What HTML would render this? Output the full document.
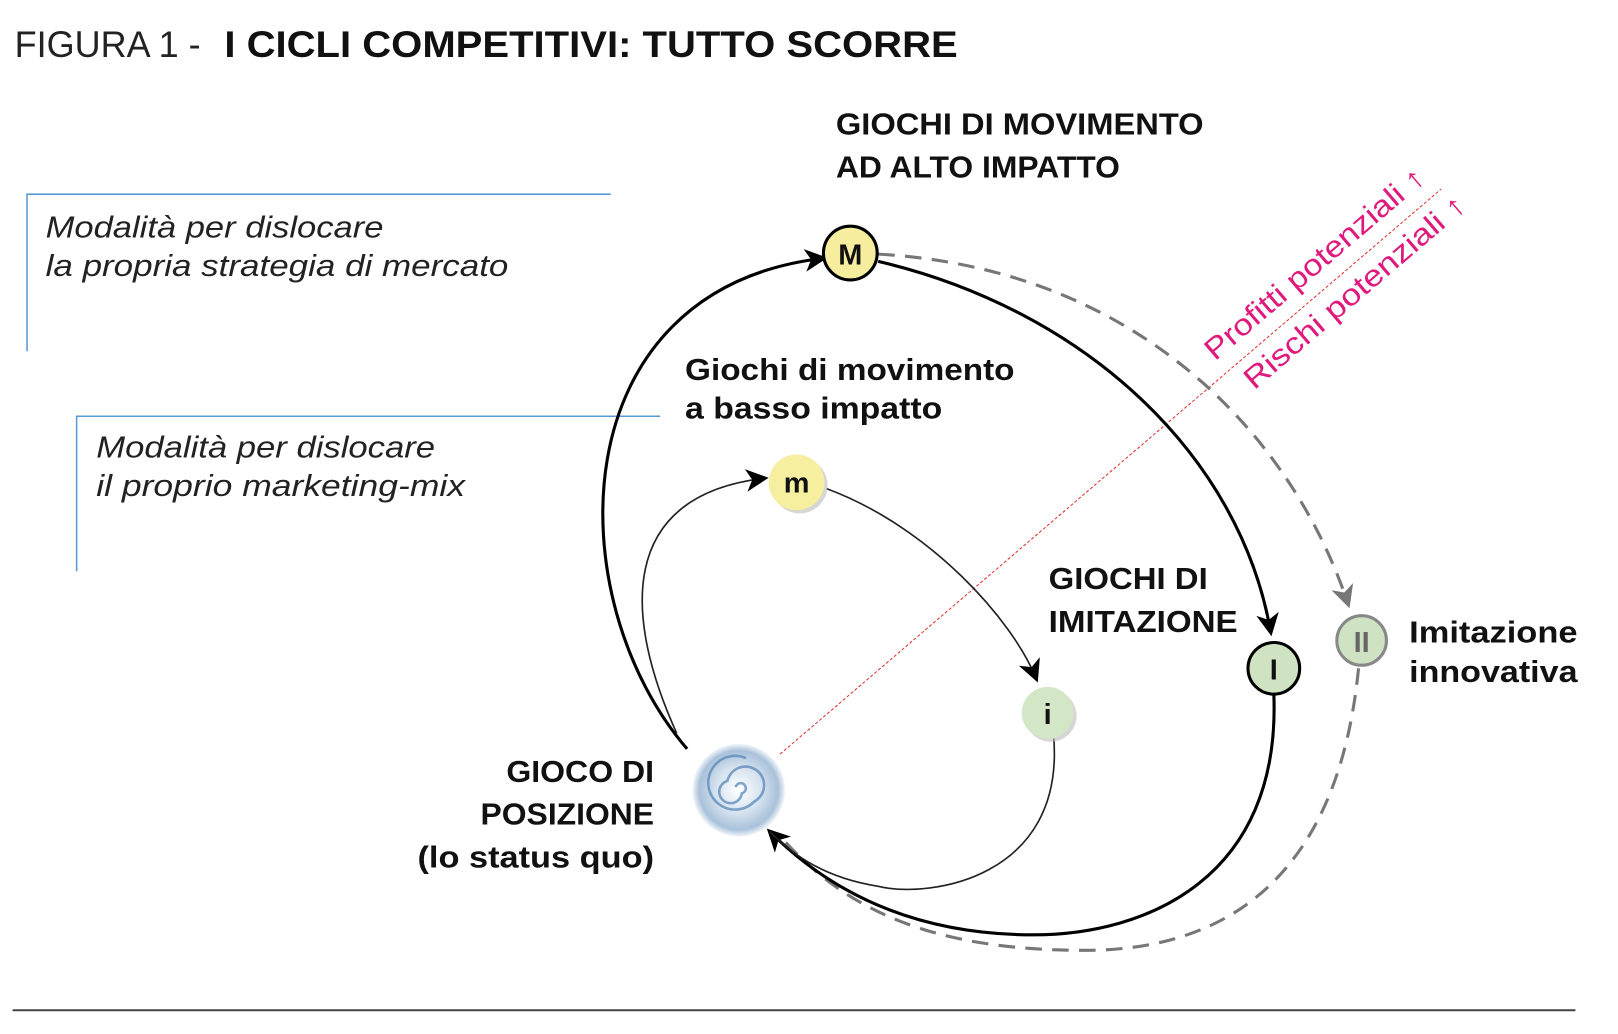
<!DOCTYPE html>
<html><head><meta charset="utf-8"><style>
html,body{margin:0;padding:0;background:#fff}
svg{display:block}
text{font-family:"Liberation Sans",sans-serif}
</style></head><body>
<svg width="1618" height="1034" viewBox="0 0 1566 1001" xmlns="http://www.w3.org/2000/svg">
<defs>
<marker id="ab2" markerWidth="22" markerHeight="22" refX="18" refY="11" orient="auto" markerUnits="userSpaceOnUse" viewBox="0 0 22 22"><path d="M0,0 L22,11 L0,22 L6,11 z" fill="#000"/></marker>
<marker id="ag" markerWidth="22" markerHeight="22" refX="18" refY="11" orient="auto" markerUnits="userSpaceOnUse" viewBox="0 0 22 22"><path d="M0,0 L22,11 L0,22 L6,11 z" fill="#777"/></marker>
<radialGradient id="sw" cx="50%" cy="50%" r="50%"><stop offset="0" stop-color="#fff"/><stop offset="0.5" stop-color="#d5e2ef"/><stop offset="0.85" stop-color="#a9c1da"/><stop offset="1" stop-color="#f4f7fb"/></radialGradient>
</defs>
<text x="14" y="55" font-size="36" fill="#222" textLength="180" lengthAdjust="spacingAndGlyphs">FIGURA 1 -</text>
<text x="217" y="55" font-size="36" font-weight="bold" fill="#111" textLength="710" lengthAdjust="spacingAndGlyphs">I CICLI COMPETITIVI: TUTTO SCORRE</text>
<line x1="12" y1="978" x2="1525" y2="978" stroke="#444" stroke-width="2"/>
<path d="M26 340 V188 H591" fill="none" stroke="#5b9bd5" stroke-width="1.5"/>
<path d="M74 553 V403 H639" fill="none" stroke="#5b9bd5" stroke-width="1.5"/>
<g font-style="italic" font-size="30" fill="#222" lengthAdjust="spacingAndGlyphs">
<text x="44" y="230" textLength="327" lengthAdjust="spacingAndGlyphs">Modalità per dislocare</text>
<text x="44" y="267" textLength="448" lengthAdjust="spacingAndGlyphs">la propria strategia di mercato</text>
<text x="93" y="443" textLength="328" lengthAdjust="spacingAndGlyphs">Modalità per dislocare</text>
<text x="93" y="480" textLength="357" lengthAdjust="spacingAndGlyphs">il proprio marketing-mix</text>
</g>
<g font-weight="bold" font-size="30" fill="#111">
<text x="809" y="130" textLength="356" lengthAdjust="spacingAndGlyphs">GIOCHI DI MOVIMENTO</text>
<text x="809" y="172" textLength="275" lengthAdjust="spacingAndGlyphs">AD ALTO IMPATTO</text>
<text x="663" y="368" textLength="319" lengthAdjust="spacingAndGlyphs">Giochi di movimento</text>
<text x="663" y="405" textLength="249" lengthAdjust="spacingAndGlyphs">a basso impatto</text>
<text x="1015" y="570" textLength="154" lengthAdjust="spacingAndGlyphs">GIOCHI DI</text>
<text x="1015" y="612" textLength="183" lengthAdjust="spacingAndGlyphs">IMITAZIONE</text>
<text x="1364" y="622" textLength="163" lengthAdjust="spacingAndGlyphs">Imitazione</text>
<text x="1364" y="660" textLength="163" lengthAdjust="spacingAndGlyphs">innovativa</text>
<text x="490" y="757" textLength="143" lengthAdjust="spacingAndGlyphs">GIOCO DI</text>
<text x="465" y="798" textLength="168" lengthAdjust="spacingAndGlyphs">POSIZIONE</text>
<text x="404" y="840" textLength="229" lengthAdjust="spacingAndGlyphs">(lo status quo)</text>
</g>
<line x1="755" y1="730" x2="1395" y2="183" stroke="#e03030" stroke-width="1" stroke-dasharray="3,2"/>
<g fill="#e0197d" font-size="29">
<text transform="translate(1176,350) rotate(-40.5)" textLength="270" lengthAdjust="spacingAndGlyphs">Profitti potenziali ↑</text>
<text transform="translate(1214,378) rotate(-40.5)" textLength="272" lengthAdjust="spacingAndGlyphs">Rischi potenziali ↑</text>
</g>
<g fill="none" stroke="#777" stroke-width="3" stroke-dasharray="16,10">
<path d="M850 246 C1100 260 1250 420 1305 585" marker-end="url(#ag)"/>
<path d="M1315 647 C1300 800 1230 920 1050 920 C900 920 820 880 760 815"/>
</g>
<g fill="none" stroke="#000" stroke-width="3">
<path d="M665 725 C540 580 540 280 797 250" marker-end="url(#ab2)"/>
<path d="M850 253 C1050 300 1200 440 1230 612" marker-end="url(#ab2)"/>
<path d="M1233 672 C1240 850 1110 905 1000 905 C880 905 800 860 745 805" marker-end="url(#ab2)"/>
</g>
<g fill="none" stroke="#222" stroke-width="1.6">
<path d="M655 710 C605 600 595 480 740 463" marker-end="url(#ab2)"/>
<path d="M800 473 C900 510 980 600 1003 657" marker-end="url(#ab2)"/>
<path d="M1020 715 C1030 850 900 870 850 858 C800 850 770 830 745 805"/>
</g>
<circle cx="715" cy="765" r="45" fill="url(#sw)"/>
<path d="M712 762 a5 5 0 1 1 6 6 a11 11 0 1 1 -14 -12 a18 18 0 1 1 26 20 a26 26 0 1 1 -8 -42" fill="none" stroke="#5a88b8" stroke-width="2.5" opacity="0.75"/>
<circle cx="823" cy="245" r="26" fill="#f6ee9e" stroke="#000" stroke-width="3"/>
<circle cx="774" cy="470" r="27" fill="#bbb" opacity="0.6"/>
<circle cx="771" cy="467" r="27" fill="#f6ef9f"/>
<circle cx="1017" cy="693" r="25" fill="#bbb" opacity="0.6"/>
<circle cx="1014" cy="690" r="25" fill="#d3e6c6"/>
<circle cx="1233" cy="647" r="25" fill="#cfe3c3" stroke="#000" stroke-width="3"/>
<circle cx="1318" cy="620" r="24" fill="#cfe3c3" stroke="#888" stroke-width="3"/>
<g font-weight="bold" font-size="28" text-anchor="middle" fill="#111">
<text x="823" y="256">M</text>
<text x="771" y="477">m</text>
<text x="1014" y="701">i</text>
<text x="1233" y="658">I</text>
<text x="1318" y="631" fill="#666">II</text>
</g>
</svg>
</body></html>
